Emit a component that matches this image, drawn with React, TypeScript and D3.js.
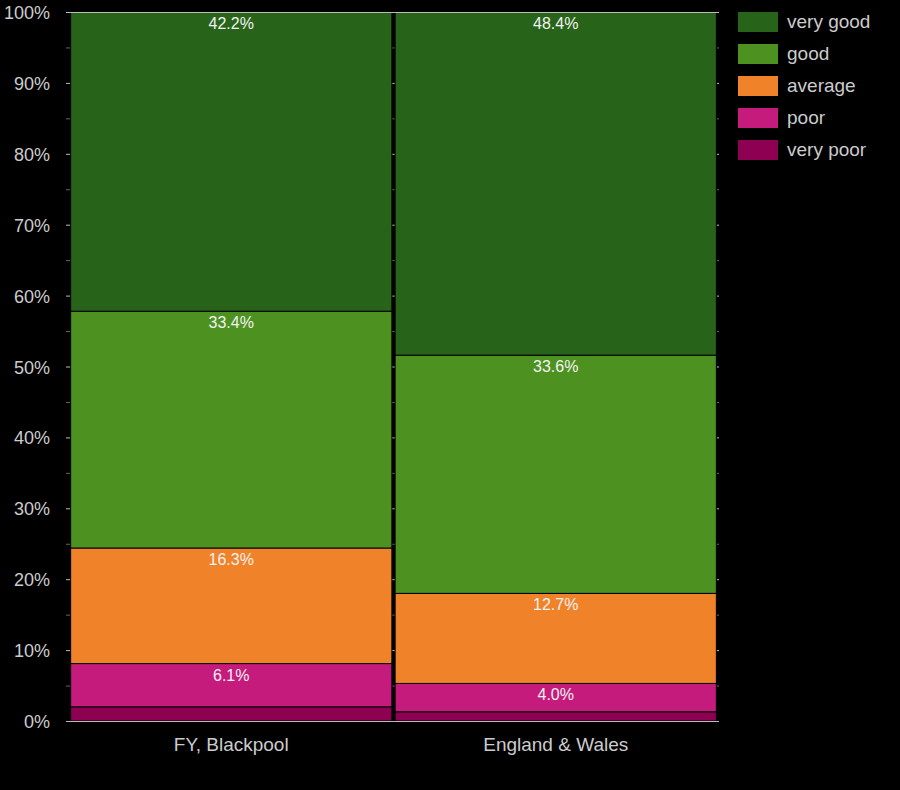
import React, { useEffect, useRef } from 'react';
import * as d3 from 'd3';

const categories = ['FY, Blackpool', 'England & Wales'];
const ratings = ['very poor', 'poor', 'average', 'good', 'very good'];
const colours = ['#8e0152', '#c51b7d', '#f0822a', '#4d9221', '#276419'];

// percentages per rating, bottom to top
const veryPoor = [2.0, 1.3];
const poor = [6.1, 4.0];
const average = [16.3, 12.7];
const good = [33.4, 33.6];
const veryGood = [42.2, 48.4];

const yTicks = [0, 10, 20, 30, 40, 50, 60, 70, 80, 90, 100];

const App: React.FC = () => {
    const ref = useRef<SVGSVGElement | null>(null);

    useEffect(() => {
        document.body.style.margin = '0';
        document.body.style.background = '#000';
        if (!ref.current) return;
        const svg = d3.select(ref.current);
        svg.selectAll('*').remove();

        const width = 900;
        const height = 790;
        const left = 70;
        const right = 717;
        const top = 12;
        const bottom = 721;
        const font = '"Liberation Sans", Arial, sans-serif';

        svg.attr('width', width).attr('height', height);
        svg.append('rect').attr('width', width).attr('height', height).attr('fill', '#000');

        const x = d3.scaleBand<string>()
            .domain(categories)
            .range([left, right])
            .paddingInner(0.01)
            .paddingOuter(0.002);

        const y = d3.scaleLinear().domain([0, 100]).range([bottom, top]);

        // grid lines (visible only between and beside bars)
        const minor = d3.range(0, 101, 5);
        svg.append('g').selectAll('line')
            .data(minor)
            .enter().append('line')
            .attr('x1', left - 4)
            .attr('x2', right + 2)
            .attr('y1', d => y(d) + 0.5)
            .attr('y2', d => y(d) + 0.5)
            .attr('stroke', d => (d % 10 === 0 ? '#bbb' : '#666'))
            .attr('stroke-width', 1);

        const series = [veryPoor, poor, average, good, veryGood];
        const rows = categories.map((c, i) => {
            const row: any = { category: c };
            ratings.forEach((r, k) => { row[r] = series[k][i]; });
            return row;
        });
        const stack = d3.stack<any>().keys(ratings)(rows);

        const layers = svg.append('g').selectAll('g')
            .data(stack)
            .enter().append('g')
            .attr('fill', (_d, i) => colours[i]);

        layers.selectAll('rect')
            .data(d => d)
            .enter().append('rect')
            .attr('x', d => x(d.data.category) as number)
            .attr('width', x.bandwidth())
            .attr('y', d => y(d[1]))
            .attr('height', d => y(d[0]) - y(d[1]))
            .attr('stroke', '#000')
            .attr('stroke-width', 1);

        // value labels (skip the thin very poor band)
        stack.forEach((layer, k) => {
            if (k === 0) return;
            layer.forEach(d => {
                svg.append('text')
                    .attr('x', (x(d.data.category) as number) + x.bandwidth() / 2)
                    .attr('y', y(d[1]) + 17)
                    .attr('text-anchor', 'middle')
                    .style('font-family', font)
                    .style('font-size', '16px')
                    .style('fill', '#f2f2f2')
                    .text(`${(d[1] - d[0]).toFixed(1)}%`);
            });
        });

        // axis lines
        svg.append('line')
            .attr('x1', left).attr('x2', right)
            .attr('y1', top + 0.5).attr('y2', top + 0.5)
            .attr('stroke', '#bbb');
        svg.append('line')
            .attr('x1', left).attr('x2', right)
            .attr('y1', bottom + 0.5).attr('y2', bottom + 0.5)
            .attr('stroke', '#bbb');

        svg.append('g').selectAll('text')
            .data(yTicks)
            .enter().append('text')
            .attr('x', 50)
            .attr('y', d => y(d) + 7)
            .attr('text-anchor', 'end')
            .style('font-family', font)
            .style('font-size', '18px')
            .style('fill', '#ccc')
            .text(d => `${d}%`);

        svg.append('g').selectAll('text')
            .data(categories)
            .enter().append('text')
            .attr('x', d => (x(d) as number) + x.bandwidth() / 2)
            .attr('y', 751)
            .attr('text-anchor', 'middle')
            .style('font-family', font)
            .style('font-size', '19px')
            .style('fill', '#ccc')
            .text(d => d);

        // legend, top rating first
        const legend = svg.append('g').selectAll('g')
            .data(ratings.slice().reverse())
            .enter().append('g')
            .attr('transform', (_d, i) => `translate(738,${12 + i * 32})`);

        legend.append('rect')
            .attr('width', 40)
            .attr('height', 20)
            .attr('fill', d => colours[ratings.indexOf(d)]);

        legend.append('text')
            .attr('x', 49)
            .attr('y', 16)
            .style('font-family', font)
            .style('font-size', '19px')
            .style('fill', '#ccc')
            .text(d => d);
    }, []);

    return <svg ref={ref} style={{ display: 'block' }}></svg>;
};

export default App;
